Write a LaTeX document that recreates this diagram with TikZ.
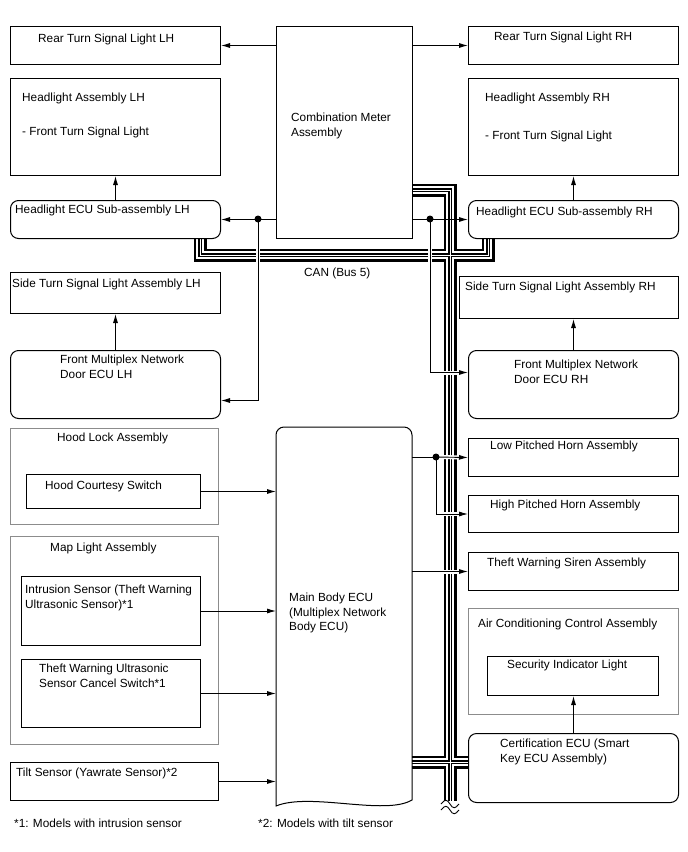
\documentclass[tikz,border=0pt]{standalone}
\usepackage{fontspec}
\setmainfont{Liberation Sans}
\usetikzlibrary{arrows.meta}

\tikzset{
  box/.style={draw, rectangle, anchor=north west, inner sep=0pt, line width=1pt},
  rbox/.style={box, rounded corners=8pt},
  grp/.style={box, draw=black!45, line width=0.8pt},
  txt/.style={anchor=base west, inner sep=0pt, align=left, font=\fontsize{11.8}{14.5}\selectfont},
  mtxt/.style={txt, anchor=north west},
  arr/.style={line width=0.9pt, -{Latex[length=9pt,width=5pt]}},
  cross/.style={preaction={draw=white, line width=4pt, -, shorten <=5pt, shorten >=5pt}},
  dot/.style={circle, fill, inner sep=0pt, minimum size=7pt},
}

\begin{document}
\begin{tikzpicture}[x=1pt, y=-1pt]
    \useasboundingbox (0,0) rectangle (688,852);

    % CAN bus (Bus 5)
    \foreach \w/\c in {13pt/black, 7.5pt/white, 3.5pt/black, 1pt/white}
        \draw[line width=\w, draw=\c] (200,238) -- (200,255) -- (488,255) -- (488,238)
            (412,190) -- (450,190) -- (450,801)
            (412,762) -- (468,762);
    \draw[line width=0.9pt] (441,804) .. controls (445,799) and (447,799) .. (450,804) .. controls (453,809) and (455,809) .. (459,804);
    \draw[line width=0.9pt] (441,810) .. controls (445,805) and (447,805) .. (450,810) .. controls (453,815) and (455,815) .. (459,810);
    \node[txt] (can) at (304,276) {CAN (Bus 5)};

    % Combination meter and lights
    \node[box, minimum width=136pt, minimum height=212pt] (cmb) at (276,26) {};
    \node[mtxt] (cmb-t) at (291,113) {Combination Meter\\Assembly};
    \node[box, minimum width=210pt, minimum height=38pt] (rtlh) at (10,26) {};
    \node[txt] (rtlh-t) at (38,42) {Rear Turn Signal Light LH};
    \node[box, minimum width=210pt, minimum height=38pt] (rtrh) at (468,26) {};
    \node[txt] (rtrh-t) at (494,40) {Rear Turn Signal Light RH};
    \node[box, minimum width=210pt, minimum height=97pt] (hlalh) at (10,78) {};
    \node[txt] (hlalh-t) at (22,101) {Headlight Assembly LH};
    \node[txt] (hlalh-s) at (22,135) {- Front Turn Signal Light};
    \node[box, minimum width=210pt, minimum height=97pt] (hlarh) at (468,78) {};
    \node[txt] (hlarh-t) at (485,101) {Headlight Assembly RH};
    \node[txt] (hlarh-s) at (485,139) {- Front Turn Signal Light};
    \node[rbox, minimum width=210pt, minimum height=38pt] (hecul) at (10,200) {};
    \node[txt] (hecul-t) at (15,213) {Headlight ECU Sub-assembly LH};
    \node[rbox, minimum width=210pt, minimum height=38pt] (hecur) at (468,200) {};
    \node[txt] (hecur-t) at (476,215) {Headlight ECU Sub-assembly RH};

    % Doors
    \node[box, minimum width=210pt, minimum height=41pt] (stlh) at (10,272) {};
    \node[txt] (stlh-t) at (12,287) {Side Turn Signal Light Assembly LH};
    \node[box, minimum width=219pt, minimum height=42pt] (strh) at (459,276) {};
    \node[txt] (strh-t) at (465,290) {Side Turn Signal Light Assembly RH};
    \node[rbox, minimum width=210pt, minimum height=68pt] (fmlh) at (10,350) {};
    \node[mtxt] (fmlh-t) at (60,355) {Front Multiplex Network\\Door ECU LH};
    \node[rbox, minimum width=210pt, minimum height=68pt] (fmrh) at (468,350) {};
    \node[mtxt] (fmrh-t) at (514,360) {Front Multiplex Network\\Door ECU RH};

    % Inputs on the left
    \node[grp, minimum width=208pt, minimum height=96pt] (hood) at (10,428) {};
    \node[txt] (hood-t) at (57,441) {Hood Lock Assembly};
    \node[box, minimum width=174pt, minimum height=34pt] (hcs) at (26,474) {};
    \node[txt] (hcs-t) at (45,489) {Hood Courtesy Switch};
    \node[grp, minimum width=208pt, minimum height=208pt] (map) at (10,536) {};
    \node[txt] (map-t) at (50,551) {Map Light Assembly};
    \node[box, minimum width=179pt, minimum height=69pt] (ins) at (21,576) {};
    \node[mtxt] (ins-t) at (25,585) {Intrusion Sensor (Theft Warning\\Ultrasonic Sensor)*1};
    \node[box, minimum width=179pt, minimum height=68pt] (tcs) at (21,659) {};
    \node[mtxt] (tcs-t) at (39,664) {Theft Warning Ultrasonic\\Sensor Cancel Switch*1};
    \node[box, minimum width=208pt, minimum height=38pt] (tilt) at (10,762) {};
    \node[txt] (tilt-t) at (16,776) {Tilt Sensor (Yawrate Sensor)*2};

    % Main body ECU (torn bottom edge)
    \node[anchor=north west, inner sep=0pt, minimum width=136pt, minimum height=373pt] (mbe) at (276,427) {};
    \draw[line width=1pt] (276,806) [rounded corners=8pt] -- (276,427) -- (412,427) [sharp corners] -- (412,800)
        .. controls (385,816) and (310,792) .. cycle;
    \node[mtxt] (mbe-t) at (289,593) {Main Body ECU\\(Multiplex Network\\Body ECU)};

    % Outputs on the right
    \node[box, minimum width=210pt, minimum height=38pt] (lph) at (468,438) {};
    \node[txt] (lph-t) at (490,449) {Low Pitched Horn Assembly};
    \node[box, minimum width=210pt, minimum height=37pt] (hph) at (468,495) {};
    \node[txt] (hph-t) at (490,508) {High Pitched Horn Assembly};
    \node[box, minimum width=210pt, minimum height=38pt] (tws) at (468,552) {};
    \node[txt] (tws-t) at (487,566) {Theft Warning Siren Assembly};
    \node[grp, minimum width=210pt, minimum height=106pt] (acc) at (468,608) {};
    \node[txt] (acc-t) at (478,627) {Air Conditioning Control Assembly};
    \node[box, minimum width=171pt, minimum height=39pt] (sil) at (487,656) {};
    \node[txt] (sil-t) at (507,668) {Security Indicator Light};
    \node[rbox, minimum width=210pt, minimum height=69pt] (cert) at (468,733) {};
    \node[mtxt] (cert-t) at (500,739) {Certification ECU (Smart\\Key ECU Assembly)};

    % Notes
    \node[txt] (note1) at (14,827) {*1: Models with intrusion sensor};
    \node[txt] (note2) at (258,827) {*2: Models with tilt sensor};

    % Connections
    \draw[arr] (cmb.west |- rtlh.east) -- (rtlh.east);
    \draw[arr] (cmb.east |- rtrh.west) -- (rtrh.west);
    \draw[arr] (hecul.north) -- (hlalh.south);
    \draw[arr] (hecur.north) -- (hlarh.south);
    \node[dot] (jl) at (258,219) {};
    \node[dot] (jr) at (430,219) {};
    \draw[arr] (cmb.west |- hecul.east) -- (hecul.east);
    \draw[arr] (cmb.east |- hecur.west) -- (hecur.west);
    \draw[arr, cross] (jl.center) |- ([yshift=-16pt]fmlh.east);
    \draw[arr, cross] (jr.center) |- ([yshift=12pt]fmrh.west);
    \draw[arr] (fmlh.north) -- (stlh.south);
    \draw[arr] (fmrh.north) -- (fmrh.north |- strh.south);
    \draw[arr] (hcs.east) -- (hcs.east -| mbe.west);
    \draw[arr] (ins.east) -- (ins.east -| mbe.west);
    \draw[arr] (tcs.east) -- (tcs.east -| mbe.west);
    \draw[arr] (tilt.east) -- (tilt.east -| mbe.west);
    \node[dot] (jh) at (436,457) {};
    \draw[line width=0.9pt] (mbe.east |- jh) -- (jh.center);
    \draw[arr, cross] (jh.center) -- (lph.west);
    \draw[arr, cross] (jh.center) |- (hph.west);
    \draw[arr, cross] (mbe.east |- tws.west) -- (tws.west);
    \draw[arr] (cert.north) -- (cert.north |- sil.south);
\end{tikzpicture}
\end{document}
